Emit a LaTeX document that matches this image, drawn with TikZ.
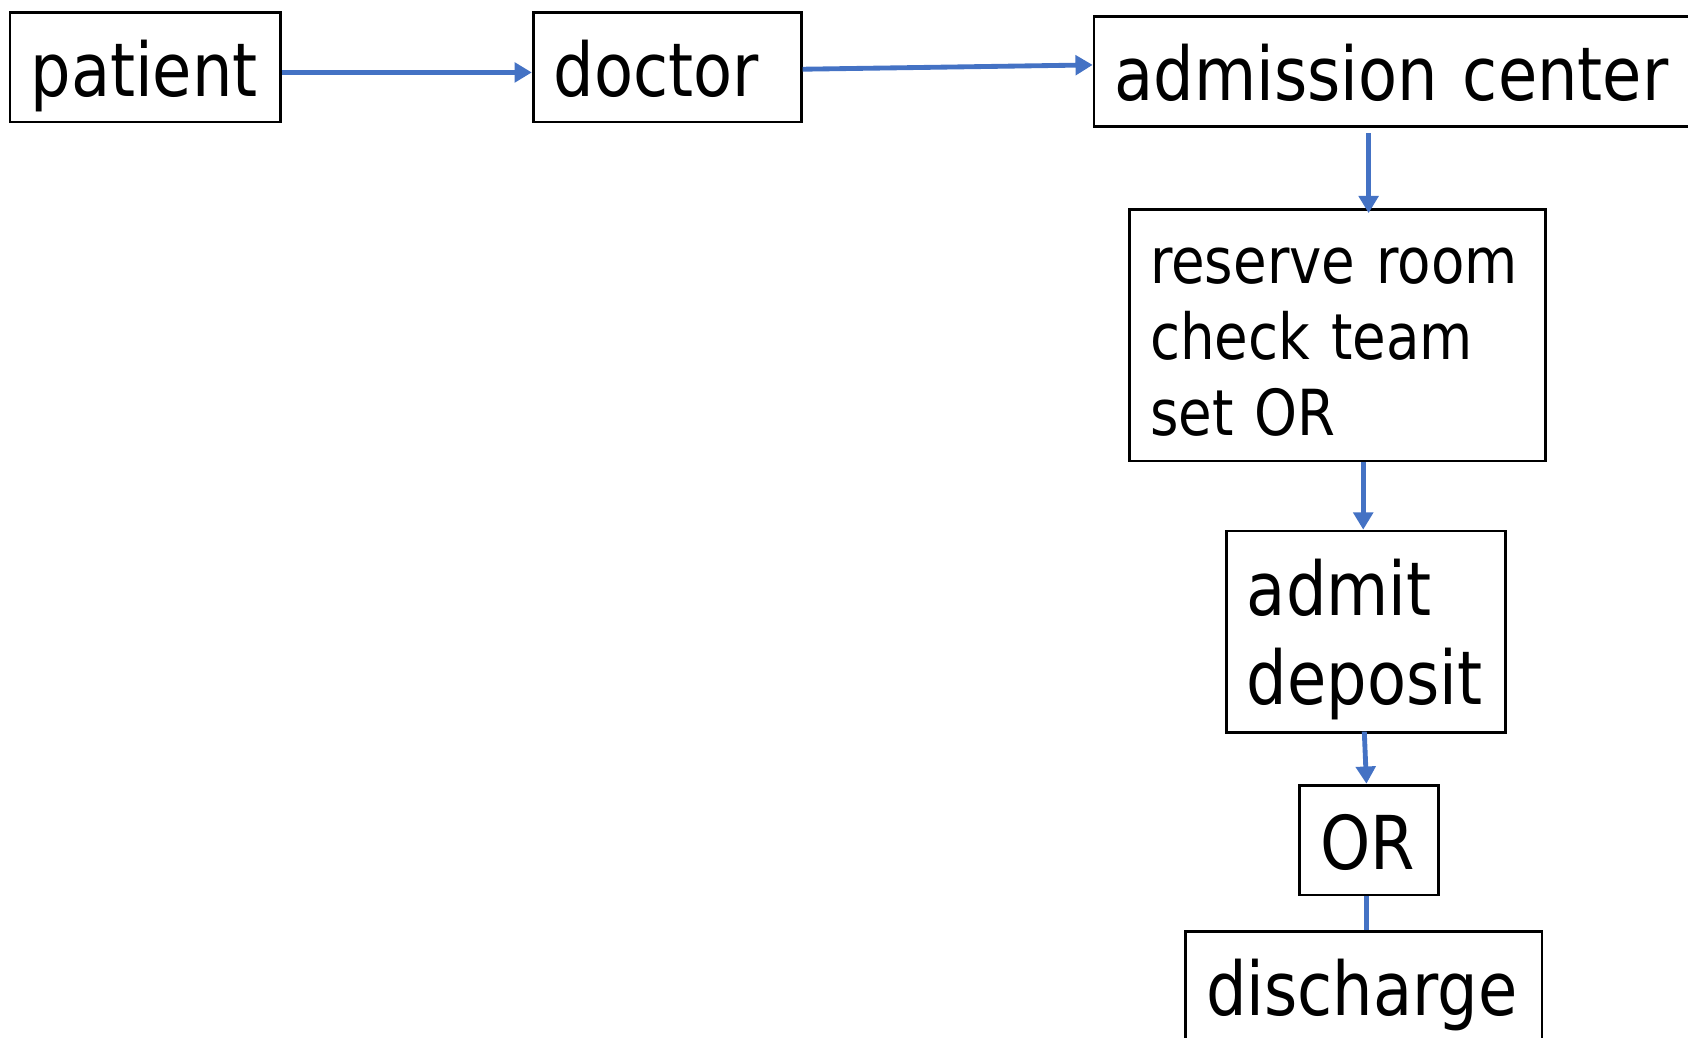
\documentclass[tikz,border=0pt]{standalone}
\usepackage{fontspec}
\setmainfont{DejaVu Sans}[FakeStretch=0.86]
\usetikzlibrary{arrows.meta}
\definecolor{arrblue}{HTML}{4472C4}
\tikzset{
  box/.style={draw, line width=2.6pt, anchor=north west, inner xsep=19pt, inner ysep=0pt,
    align=left, text depth=24pt, font=\fontsize{69}{83}\selectfont},
  smallbox/.style={box, font=\fontsize{59}{70.5}\selectfont},
  arr/.style={draw=arrblue, line width=4.5pt, -{Triangle[length=16pt,width=18pt]}},
  link/.style={draw=arrblue, line width=4.5pt}
}
\begin{document}
\begin{tikzpicture}[x=1pt,y=-1pt]
\useasboundingbox (0,0) rectangle (1568,964);
\node[box, text width=213pt, text height=78pt] (patient) at (8,10) {patient};
\node[box, text width=211pt, text height=78pt] (doctor) at (494,10) {doctor};
\node[box, text width=517pt, text height=78pt] (adm) at (1015,14) {admission center};
\node[smallbox, text width=348pt, text height=69pt, text depth=165pt] (reserve) at (1048,193) {reserve room\\check team\\set OR};
\node[box, text width=221pt, text height=78pt, text depth=109pt] (admit) at (1138,492) {admit\\deposit};
\node[box, text width=91pt, text height=78pt] (or) at (1206,728) {OR};
\node[box, text width=293pt, text height=78pt] (dis) at (1100,864) {discharge};

\draw[arr] ([yshift=-5pt]patient.east) -- ([yshift=-5pt]doctor.west);
\draw[arr] ([yshift=-2pt]doctor.east) -- ([yshift=6pt]adm.west);
\draw[arr] ([xshift=-22.5pt,yshift=-5pt]adm.south) -- ([xshift=-22.5pt,yshift=-5pt]adm.south |- reserve.north);
\draw[arr] ([xshift=24pt]reserve.south) -- ([xshift=-2.5pt]admit.north);
\draw[arr] ([xshift=-1.5pt,yshift=2pt]admit.south) -- ([xshift=-2.5pt]or.north);
\draw[link] ([xshift=-2.5pt]or.south) -- ([xshift=2.5pt]dis.north);
\end{tikzpicture}
\end{document}
